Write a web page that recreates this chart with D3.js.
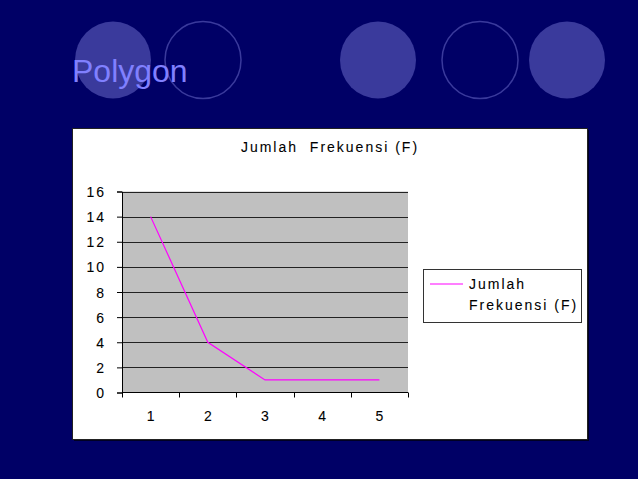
<!DOCTYPE html>
<html>
<head>
<meta charset="utf-8">
<script src="https://cdn.jsdelivr.net/npm/d3@7"></script>
<style>
  body { margin: 0; background: #000066; }
  svg { display: block; }
</style>
</head>
<body>
<div id="slide"></div>
<script>
// Data
const categories = ["1", "2", "3", "4", "5"];
const frekuensi = [14, 4, 1, 1, 1];
const yTicks = [0, 2, 4, 6, 8, 10, 12, 14, 16];
const legendWords = ["Jumlah", "Frekuensi (F)"];

const W = 638, H = 479;
const FONT = "Liberation Sans, Arial, sans-serif";
const svg = d3.select("#slide").append("svg")
    .attr("width", W)
    .attr("height", H);

svg.append("rect").attr("width", W).attr("height", H).attr("fill", "#000066");

// decorative circles at the top
const deco = [
    {cx: 113, filled: true},
    {cx: 203, filled: false},
    {cx: 378, filled: true},
    {cx: 480, filled: false},
    {cx: 567, filled: true}
];
svg.selectAll("ellipse.deco")
    .data(deco)
    .enter()
    .append("ellipse")
    .attr("class", "deco")
    .attr("cx", d => d.cx)
    .attr("cy", 60)
    .attr("rx", 38)
    .attr("ry", 38.5)
    .attr("fill", d => d.filled ? "#3a3a9c" : "none")
    .attr("stroke", d => d.filled ? "none" : "#3a3a9c")
    .attr("stroke-width", 1.5);

svg.append("text")
    .attr("x", 72)
    .attr("y", 82)
    .attr("font-family", FONT)
    .attr("font-size", 32)
    .attr("fill", "#8080ff")
    .text("Polygon");

// chart box with a little shadow
svg.append("rect")
    .attr("x", 74).attr("y", 130)
    .attr("width", 515).attr("height", 311)
    .attr("fill", "#000022");
svg.append("rect")
    .attr("x", 72.5).attr("y", 128.5)
    .attr("width", 515).attr("height", 311)
    .attr("fill", "#ffffff")
    .attr("stroke", "#222222")
    .attr("stroke-width", 1);

// the chart text is wide and spaced out in the picture
function styleText(sel) {
    return sel.attr("font-family", FONT)
        .attr("font-size", 14)
        .attr("letter-spacing", 2)
        .attr("fill", "#000")
        .attr("stroke", "#000")
        .attr("stroke-width", 0.08);
}

styleText(svg.append("text"))
    .attr("x", 330).attr("y", 152)
    .attr("text-anchor", "middle")
    .attr("xml:space", "preserve")
    .text("Jumlah  Frekuensi (F)");

const plot = {left: 122, right: 408, top: 191.5, bottom: 392.5};

const x = d3.scaleBand()
    .domain(categories)
    .range([plot.left, plot.right]);

const y = d3.scaleLinear()
    .domain([0, 16])
    .range([plot.bottom, plot.top]);

svg.append("rect")
    .attr("x", plot.left).attr("y", plot.top)
    .attr("width", plot.right - plot.left)
    .attr("height", plot.bottom - plot.top)
    .attr("fill", "#c0c0c0");

// gridlines
svg.append("g")
    .selectAll("line")
    .data(yTicks.filter(d => d > 0))
    .enter()
    .append("line")
    .attr("x1", plot.left).attr("x2", plot.right)
    .attr("y1", d => Math.round(y(d)) + 0.5)
    .attr("y2", d => Math.round(y(d)) + 0.5)
    .attr("stroke", "#222")
    .attr("stroke-width", 1);

// y axis
const yAxis = svg.append("g")
    .attr("transform", `translate(${plot.left},0)`)
    .call(d3.axisLeft(y).tickValues(yTicks).tickSize(5).tickPadding(11));
yAxis.select(".domain").attr("stroke", "#000");
styleText(yAxis.selectAll("text")).attr("dy", "0.36em");

// x axis with ticks at category boundaries
const xAxisG = svg.append("g")
    .attr("transform", `translate(0,${plot.bottom})`);
xAxisG.append("line")
    .attr("x1", plot.left).attr("x2", plot.right)
    .attr("stroke", "#000");
const bounds = categories.map(c => x(c)).concat([x(categories[categories.length - 1]) + x.bandwidth()]);
xAxisG.selectAll("line.tick")
    .data(bounds)
    .enter()
    .append("line")
    .attr("class", "tick")
    .attr("x1", d => Math.round(d) + 0.5).attr("x2", d => Math.round(d) + 0.5)
    .attr("y1", 0).attr("y2", 5)
    .attr("stroke", "#000");
styleText(xAxisG.selectAll("text")
    .data(categories)
    .enter()
    .append("text"))
    .attr("x", d => x(d) + x.bandwidth() / 2 + 1)
    .attr("y", 28)
    .attr("text-anchor", "middle")
    .text(d => d);

// the polygon line
const line = d3.line()
    .x((d, i) => x(categories[i]) + x.bandwidth() / 2)
    .y(d => y(d));
svg.append("path")
    .datum(frekuensi)
    .attr("d", line)
    .attr("fill", "none")
    .attr("stroke", "#ff00ff")
    .attr("stroke-width", 1.2);

// legend
const lg = svg.append("g");
lg.append("rect")
    .attr("x", 423.5).attr("y", 269.5)
    .attr("width", 158).attr("height", 53)
    .attr("fill", "#fff")
    .attr("stroke", "#333");
lg.append("line")
    .attr("x1", 430).attr("x2", 463)
    .attr("y1", 284).attr("y2", 284)
    .attr("stroke", "#ff00ff")
    .attr("stroke-width", 1.2);
styleText(lg.selectAll("text")
    .data(legendWords)
    .enter()
    .append("text"))
    .attr("x", 469)
    .attr("y", (d, i) => 289 + i * 21)
    .text(d => d);
</script>
</body>
</html>
